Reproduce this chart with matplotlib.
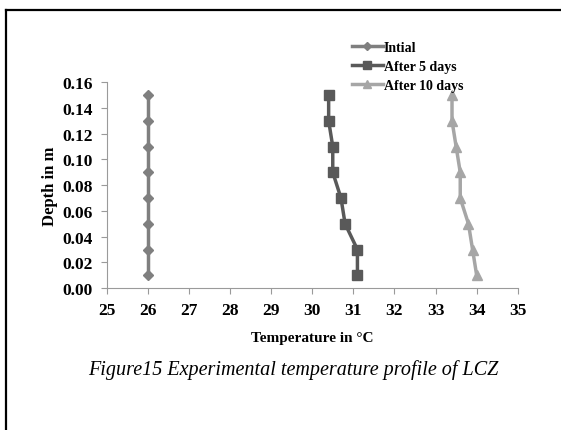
import numpy as np
import matplotlib
matplotlib.use("Agg")
import matplotlib.pyplot as plt
from matplotlib.lines import Line2D

# --- data ---
depth = [0.01, 0.03, 0.05, 0.07, 0.09, 0.11, 0.13, 0.15]
temp_initial = [26.0, 26.0, 26.0, 26.0, 26.0, 26.0, 26.0, 26.0]
temp_5days = [31.1, 31.1, 30.8, 30.7, 30.5, 30.5, 30.4, 30.4]
temp_10days = [34.0, 33.9, 33.8, 33.6, 33.6, 33.5, 33.4, 33.4]
labels = ["Intial", "After 5 days", "After 10 days"]
x_ticks = list(range(25, 36))
y_ticks = [0.00, 0.02, 0.04, 0.06, 0.08, 0.10, 0.12, 0.14, 0.16]

plt.rcParams["font.family"] = ["Liberation Serif", "DejaVu Serif"]

fig = plt.figure(figsize=(5.61, 4.31), dpi=100)
ax = fig.add_axes([0.190, 0.329, 0.733, 0.478])

ax.plot(temp_initial, depth, color="#7f7f7f", lw=2.5, marker="D", ms=5.5,
        label=labels[0])
ax.plot(temp_5days, depth, color="#595959", lw=2.5, marker="s", ms=7.5,
        label=labels[1])
ax.plot(temp_10days, depth, color="#a6a6a6", lw=2.5, marker="^", ms=7.5,
        label=labels[2])

ax.set_xlim(25, 35)
ax.set_ylim(0, 0.16)
ax.set_xticks(x_ticks)
ax.set_yticks(y_ticks)
ax.set_yticklabels([f"{v:.2f}" for v in y_ticks])
for sp in ["top", "right"]:
    ax.spines[sp].set_visible(False)
for sp in ["left", "bottom"]:
    ax.spines[sp].set_color("#9a9a9a")
    ax.spines[sp].set_linewidth(0.8)
ax.tick_params(direction="out", length=4, color="#9a9a9a", width=0.8,
               labelsize=12.5, pad=6)
for t in ax.get_xticklabels() + ax.get_yticklabels():
    t.set_fontweight("bold")

ax.set_xlabel("Temperature in °C", fontsize=11, fontweight="bold", labelpad=9)
ax.set_ylabel("Depth in m", fontsize=12, fontweight="bold", labelpad=3)

leg = fig.legend(loc="upper left", bbox_to_anchor=(0.615, 0.919), frameon=False,
                 prop={"weight": "bold", "size": 10}, handlelength=2.2,
                 handletextpad=0.1, labelspacing=0.42, borderpad=0,
                 markerscale=0.75)

fig.text(0.523, 0.142, "Figure15 Experimental temperature profile of LCZ",
         ha="center", va="center", fontsize=14.5, style="italic")

# outer frame (top and left edges only)
fig.add_artist(Line2D([0.010, 1.0], [0.974, 0.974], color="black", lw=1.6,
                      transform=fig.transFigure))
fig.add_artist(Line2D([0.010, 0.010], [0.0, 0.974], color="black", lw=1.6,
                      transform=fig.transFigure))

fig.savefig("out.png", dpi=100)
